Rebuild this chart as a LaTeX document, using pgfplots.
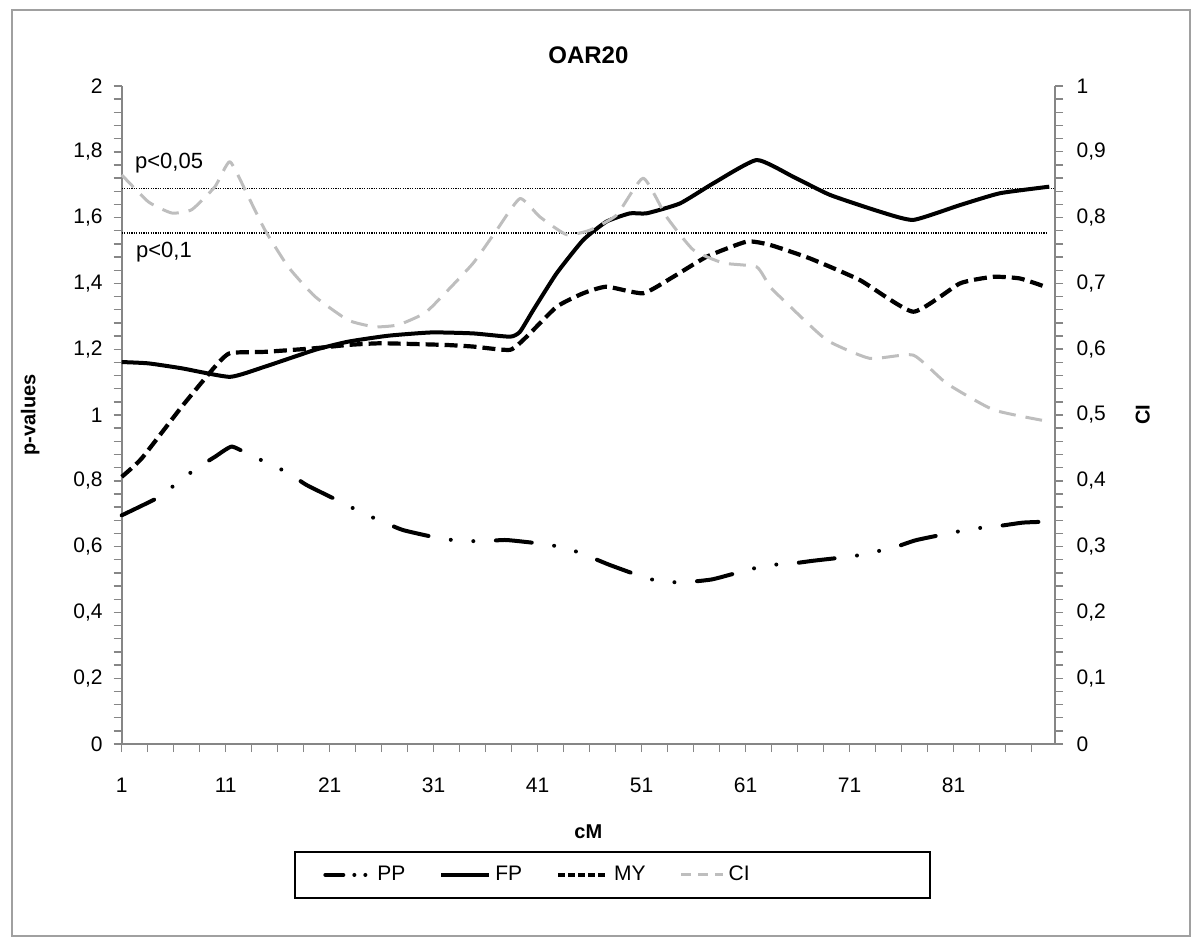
\documentclass[border=0pt]{standalone}
\usepackage{pgfplots}
\pgfplotsset{compat=1.18}
\usepackage{fontspec}
\setmainfont{Liberation Sans}
\definecolor{axisgray}{RGB}{134,134,134}
\definecolor{cigray}{RGB}{190,190,190}
\definecolor{framegray}{RGB}{160,160,160}
\begin{document}
\begin{tikzpicture}
\useasboundingbox (0,0) rectangle (597pt,472pt);
\draw[framegray, line width=0.8pt] (6pt,4pt) rectangle (595pt,467pt);
\begin{axis}[
  at={(60.85pt,100pt)}, anchor=south west,
  scale only axis, width=466.65pt, height=329pt,
  xmin=1, xmax=90.75, ymin=0, ymax=2,
  axis x line*=bottom, axis y line*=left,
  axis line style={axisgray, line width=0.8pt},
  tick align=outside, major tick length=4pt, minor tick length=4pt,
  tick style={axisgray, line width=0.7pt},
  xtick={1,11,21,31,41,51,61,71,81},
  minor xtick={3.5,6,8.5,13.5,16,18.5,23.5,26,28.5,33.5,36,38.5,43.5,46,48.5,53.5,56,58.5,63.5,66,68.5,73.5,76,78.5,83.5,86,88.5},
  ytick={0,0.2,0.4,0.6,0.8,1,1.2,1.4,1.6,1.8,2},
  minor y tick num=4,
  /pgf/number format/use comma,
  /pgf/number format/assume math mode=true,
  ticklabel style={font=\fontsize{10.5}{12}\selectfont},
  xticklabel style={yshift=-9.5pt},
  yticklabel style={xshift=-2pt},
  title={OAR20},
  title style={font=\fontsize{12}{14}\selectfont\bfseries, at={(axis description cs:0.5,1.029)}, anchor=center},
  xlabel={cM},
  xlabel style={font=\fontsize{10}{12}\selectfont\bfseries, at={(axis description cs:0.5,-0.134)}, anchor=center},
  ylabel={p-values},
  ylabel style={font=\fontsize{10}{12}\selectfont\bfseries, at={(axis description cs:-0.098,0.5)}, anchor=center},
  legend columns=4,
  legend style={at={(axis description cs:0.4466,-0.199)}, anchor=center,
    draw=none, fill=none, inner xsep=0pt, inner ysep=2pt,
    font=\fontsize{10.5}{12}\selectfont,
    /tikz/every even column/.append style={column sep=15pt}},
  clip=false,
]
% thresholds
\addplot[forget plot, black, line width=0.6pt, dash pattern=on 0.6pt off 0.6pt] coordinates {(1,1.689) (90.75,1.689)};
\addplot[forget plot, black, line width=0.6pt, dash pattern=on 0.6pt off 0.6pt] coordinates {(1,1.553) (89.9,1.553)};
\node[anchor=west, font=\fontsize{11}{12}\selectfont, inner sep=0pt] at (axis cs:2.25,1.766) {p<0,05};
\node[anchor=west, font=\fontsize{11}{12}\selectfont, inner sep=0pt] at (axis cs:2.35,1.495) {p<0,1};
% PP
\addplot[black, line width=2pt, line cap=round, smooth, tension=0.3, dash pattern=on 18pt off 11.3pt on 0pt off 11.3pt on 0pt off 11.3pt,
  legend image code/.code={\draw[black, line width=2pt, line cap=round, dash pattern=on 9pt off 5.5pt on 0pt off 5.5pt on 0pt off 20pt] (0pt,0pt) -- (23pt,0pt);}]
table[x=x,y=y]{
x y
1 0.695
4.68 0.752
6.44 0.797
8.21 0.838
9.97 0.873
11.58 0.904
13.34 0.878
15.26 0.851
17.18 0.821
18.79 0.787
22.31 0.732
24.23 0.701
26.15 0.675
28.08 0.650
31.61 0.625
33.85 0.617
36.10 0.617
38.02 0.620
41.54 0.608
43.79 0.595
45.87 0.571
47.95 0.544
51.48 0.504
53.46 0.492
55.64 0.493
57.88 0.501
61.41 0.531
63.40 0.544
65.58 0.549
67.50 0.557
71.35 0.571
73.43 0.584
75.52 0.600
77.44 0.620
81.29 0.645
83.37 0.656
85.45 0.663
87.69 0.673
90.2 0.676
};
\addlegendentry{PP}
% FP
\addplot[black, line width=2pt, line join=round, smooth, tension=0.3,
  legend image code/.code={\draw[black, line width=2pt] (0pt,0pt) -- (24pt,0pt);}]
table[x=x,y=y]{
x y
1 1.161
3.56 1.157
6.77 1.142
11.41 1.116
14.78 1.147
19.59 1.198
22.79 1.223
26.63 1.241
30.81 1.251
34.81 1.248
38.34 1.238
39.30 1.253
40.58 1.319
42.83 1.431
45.38 1.532
47.63 1.588
49.88 1.613
51.48 1.613
54.68 1.643
57.88 1.704
62.06 1.775
65.58 1.724
69.11 1.669
73.91 1.618
77.12 1.593
81.61 1.638
85.45 1.674
90.2 1.694
};
\addlegendentry{FP}
% MY
\addplot[black, line width=2.1pt, dash pattern=on 6.5pt off 3pt, line join=round, smooth, tension=0.3,
  legend image code/.code={\draw[black, line width=2pt, dash pattern=on 3.5pt off 1.5pt] (0pt,0pt) -- (25pt,0pt);}]
table[x=x,y=y]{
x y
1 0.812
2.92 0.868
6.77 1.025
9.97 1.147
11.41 1.188
14.78 1.192
19.59 1.203
22.79 1.213
26.0 1.218
32.09 1.213
34.81 1.208
38.34 1.198
39.94 1.238
42.83 1.329
45.38 1.370
47.63 1.390
51.15 1.370
54.04 1.420
57.25 1.481
61.10 1.527
63.34 1.517
67.18 1.476
71.99 1.410
77.12 1.314
81.61 1.400
84.81 1.420
87.38 1.415
89.8 1.390
};
\addlegendentry{MY}
\addlegendimage{cigray, line width=1.5pt, legend image code/.code={\draw[cigray, line width=1.5pt, dash pattern=on 5pt off 3.5pt] (0pt,0pt) -- (21pt,0pt);}}
\addlegendentry{CI}
\end{axis}
\begin{axis}[
  at={(60.85pt,100pt)}, anchor=south west,
  scale only axis, width=466.65pt, height=329pt,
  xmin=1, xmax=90.75, ymin=0, ymax=1,
  axis x line=none, axis y line*=right,
  axis line style={axisgray, line width=0.8pt},
  tick align=outside, major tick length=4pt, minor tick length=4pt,
  tick style={axisgray, line width=0.7pt},
  ytick={0,0.1,0.2,0.3,0.4,0.5,0.6,0.7,0.8,0.9,1},
  minor y tick num=4,
  /pgf/number format/use comma,
  /pgf/number format/assume math mode=true,
  ticklabel style={font=\fontsize{10.5}{12}\selectfont},
  yticklabel style={xshift=3.3pt},
  ylabel={CI},
  ylabel style={font=\fontsize{10}{12}\selectfont\bfseries, at={(axis description cs:1.094,0.5)}, anchor=center, rotate=0},
  clip=false,
]
\addplot[cigray, line width=1.5pt, dash pattern=on 8.5pt off 5pt, line join=round, smooth, tension=0.3]
table[x=x,y=y]{
x y
1 0.865
3.56 0.824
5.81 0.807
7.73 0.812
9.97 0.847
11.41 0.885
13.17 0.832
14.78 0.781
17.02 0.725
19.59 0.680
22.79 0.644
25.36 0.634
27.60 0.637
30.16 0.655
32.09 0.685
34.81 0.731
37.06 0.781
39.30 0.829
41.22 0.801
43.79 0.774
46.03 0.781
48.60 0.804
51.15 0.860
53.40 0.801
55.96 0.751
58.85 0.731
62.06 0.725
63.34 0.695
64.94 0.670
68.79 0.614
72.95 0.586
77.12 0.591
80.33 0.548
84.81 0.508
89.5 0.492
};
\end{axis}
\draw[black, line width=0.8pt] (147.5pt,23pt) rectangle (465pt,46pt);
\end{tikzpicture}
\end{document}
